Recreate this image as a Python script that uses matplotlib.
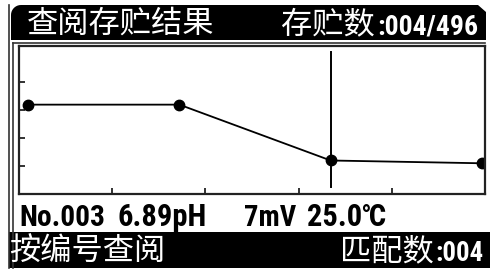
import matplotlib
matplotlib.use("Agg")
import matplotlib.pyplot as plt
import numpy as np
from matplotlib.patches import Polygon, Rectangle
from matplotlib import font_manager
from matplotlib.font_manager import FontProperties

# ---- data ----
sample_no = [1, 2, 3, 4]
ph_values = [7.09, 7.09, 6.89, 6.88]
cursor_no = 3
title_left = "查阅存贮结果"
title_right_cn = "存贮数"
title_right_num = ":004/496"
info_fields = ["No.003", "6.89pH", "7mV", "25.0℃"]
bottom_left = "按编号查阅"
bottom_right_cn = "匹配数"
bottom_right_num = ":004"


def _w(v):
    if isinstance(v, str):
        return font_manager.weight_dict.get(v, 400)
    return int(v)


def pick_narrow_bold():
    entries = font_manager.fontManager.ttflist
    bold = [f for f in entries if _w(f.weight) >= 600 and f.style == "normal"]
    prefs = [
        lambda f: f.name == "Liberation Sans Narrow",
        lambda f: "Condensed" in f.name and "Roboto" in f.name,
        lambda f: f.name == "DejaVu Sans" and "condensed" in str(f.stretch),
        lambda f: "Narrow" in f.name or "Condensed" in f.name,
        lambda f: "condensed" in str(f.stretch),
        lambda f: f.name == "Liberation Sans",
        lambda f: f.name == "Roboto",
    ]
    for p in prefs:
        for f in bold:
            if p(f):
                return FontProperties(fname=f.fname)
    return FontProperties(family="DejaVu Sans", weight="bold")


NUMFP = pick_narrow_bold()
CJK = ["Noto Sans CJK SC", "DejaVu Sans"]

W, H = 490, 270
fig = plt.figure(figsize=(W / 100, H / 100), dpi=100)
fig.patch.set_facecolor("white")
renderer = fig.canvas.get_renderer()

bg = fig.add_axes([0, 0, 1, 1])
bg.set_xlim(0, W)
bg.set_ylim(H, 0)
bg.axis("off")


def fit_text(x, y, s, width, maxsize, color):
    fp = NUMFP.copy()
    fp.set_size(maxsize)
    t = bg.text(x, y, s, color=color, fontproperties=fp, ha="left", va="baseline")
    w = t.get_window_extent(renderer=renderer).width
    if w > width:
        fp2 = NUMFP.copy()
        fp2.set_size(maxsize * width / w)
        t.set_fontproperties(fp2)
    return t


# frame lines
bg.plot([9, 9], [5, 268], color="#333333", lw=1.2)
bg.plot([13, 13], [43, 268], color="#333333", lw=1.2)
bg.plot([13, 485], [43, 43], color="#333333", lw=1.2)

# title bar (rounded top-left, cut top-right)
ang = np.linspace(np.pi, np.pi / 2, 10)
r = 10
corner = [(11 + r + r * np.cos(a), 5 + r - r * np.sin(a)) for a in ang]
pts = [(11, 40)] + corner + [(478, 5), (486, 12), (486, 40)]
bg.add_patch(Polygon(pts, closed=True, facecolor="black", edgecolor="none"))

# bottom bar
bg.add_patch(Rectangle((9, 232), 481, 36, facecolor="black", edgecolor="none"))

# texts
bg.text(27, 24, title_left, color="white", fontsize=22.5, family=CJK,
        ha="left", va="center")
bg.text(281, 24, title_right_cn, color="white", fontsize=22.5, family=CJK,
        ha="left", va="center")
fit_text(377, 34, title_right_num, 102, 20, "white")

info_x = [19, 117, 244, 307]
info_w = [86, 90, 52, 86]
for x, s, w in zip(info_x, info_fields, info_w):
    fit_text(x, 226, s, w, 22, "black")

bg.text(9, 251, bottom_left, color="white", fontsize=22.5, family=CJK,
        ha="left", va="center")
bg.text(340, 251, bottom_right_cn, color="white", fontsize=22.5, family=CJK,
        ha="left", va="center")
fit_text(435, 261, bottom_right_num, 48, 20, "white")

# plot box
L, T, R, B = 19, 46, 485, 194
ax = fig.add_axes([L / W, 1 - B / H, (R - L) / W, (B - T) / H])
ax.set_facecolor("white")
xmin, xmax = 0.94, 4.02
ax.set_xlim(xmin, xmax)
ax.set_ylim(6.77, 7.30)
ax.set_xticks(np.linspace(xmin, xmax, 6)[1:-1])
ax.set_yticks([6.87, 6.97, 7.07, 7.17])
ax.tick_params(direction="in", length=4, width=1.3, color="#222222",
               labelbottom=False, labelleft=False)
for s in ax.spines.values():
    s.set_linewidth(1.6)
    s.set_color("#222222")

ax.plot(sample_no, ph_values, color="black", lw=1.3, marker="o",
        markersize=7.5, markerfacecolor="black", markeredgecolor="black")
ax.axvline(cursor_no, ymin=0.047, ymax=0.959, color="black", lw=1.4)

fig.savefig("out.png", dpi=100, facecolor="white")
